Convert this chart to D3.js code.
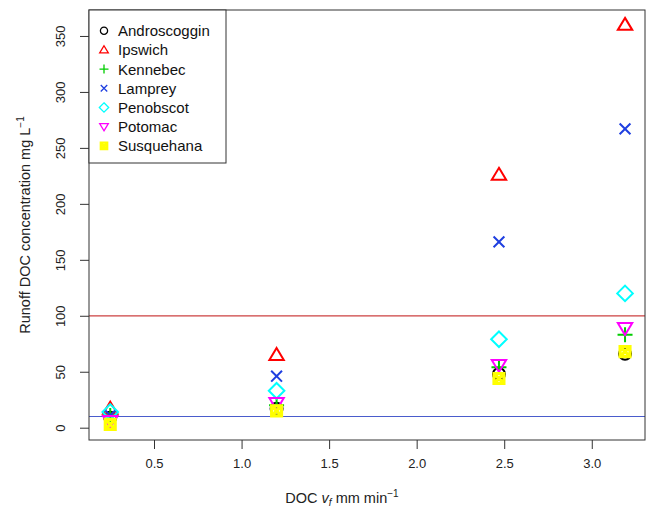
<!DOCTYPE html>
<html>
<head>
<meta charset="utf-8">
<script src="https://cdn.jsdelivr.net/npm/d3@7"></script>
<style>
  html, body { margin: 0; padding: 0; background: #fff; }
  svg { display: block; font-family: "Liberation Sans", Arial, sans-serif; }
</style>
</head>
<body>
<div id="chart"></div>
<script>
// ---- Data ----
const xValues = [0.25, 1.2, 2.47, 3.19];
const seriesNames = ["Androscoggin", "Ipswich", "Kennebec", "Lamprey", "Penobscot", "Potomac", "Susquehana"];
const androscoggin = [9, 17, 48, 66];
const ipswich = [17, 65, 226, 360];
const kennebec = [11, 20, 54, 83];
const lamprey = [11, 46, 166, 267];
const penobscot = [14, 33, 79, 120];
const potomac = [6, 22, 56, 89];
const susquehana = [3, 15, 44, 68];
const seriesColors = ["#000000", "#FF0000", "#00CD00", "#1F3FE0", "#00FFFF", "#FF00FF", "#FFFF00"];
const seriesShapes = ["circle", "triangle", "plus", "cross", "diamond", "triangleDown", "squareX"];
const xTicks = [0.5, 1.0, 1.5, 2.0, 2.5, 3.0];
const yTicks = [0, 50, 100, 150, 200, 250, 300, 350];
const refLines = [100, 10];
const refColors = ["#cc4040", "#4a5ccc"];

const seriesValues = [androscoggin, ipswich, kennebec, lamprey, penobscot, potomac, susquehana];

const W = 649, H = 510;
const plot = { left: 89, right: 645, top: 10, bottom: 440 };

const svg = d3.select("#chart").append("svg").attr("width", W).attr("height", H);

const x = d3.scaleLinear().domain([0.1287, 3.304]).range([plot.left, plot.right]);
const y = d3.scaleLinear().domain([-10.99, 373.2]).range([plot.bottom, plot.top]);

function shapePath(shape, s) {
  const p = d3.path();
  switch (shape) {
    case "circle":
      p.moveTo(s, 0); p.arc(0, 0, s, 0, 2 * Math.PI); break;
    case "triangle":
      p.moveTo(0, -1.15 * s); p.lineTo(1.2 * s, 0.85 * s); p.lineTo(-1.2 * s, 0.85 * s); p.closePath(); break;
    case "triangleDown":
      p.moveTo(0, 1.15 * s); p.lineTo(1.2 * s, -0.85 * s); p.lineTo(-1.2 * s, -0.85 * s); p.closePath(); break;
    case "plus":
      p.moveTo(-1.25 * s, 0); p.lineTo(1.25 * s, 0); p.moveTo(0, -1.25 * s); p.lineTo(0, 1.25 * s); break;
    case "cross":
      p.moveTo(-0.9 * s, -0.9 * s); p.lineTo(0.9 * s, 0.9 * s); p.moveTo(-0.9 * s, 0.9 * s); p.lineTo(0.9 * s, -0.9 * s); break;
    case "diamond":
      p.moveTo(0, -1.3 * s); p.lineTo(1.3 * s, 0); p.lineTo(0, 1.3 * s); p.lineTo(-1.3 * s, 0); p.closePath(); break;
    case "squareX":
      p.rect(-0.9 * s, -0.9 * s, 1.8 * s, 1.8 * s);
      p.moveTo(-0.9 * s, -0.9 * s); p.lineTo(0.9 * s, 0.9 * s);
      p.moveTo(-0.9 * s, 0.9 * s); p.lineTo(0.9 * s, -0.9 * s); break;
  }
  return p.toString();
}

// reference lines
refLines.forEach((v, i) => {
  svg.append("line")
    .attr("x1", plot.left).attr("x2", plot.right)
    .attr("y1", y(v)).attr("y2", y(v))
    .attr("stroke", refColors[i]).attr("stroke-width", 1.2);
});

// points
seriesValues.forEach((vals, si) => {
  svg.append("g").selectAll("path")
    .data(vals.map((v, i) => ({ x: xValues[i], y: v })))
    .join("path")
    .attr("transform", d => `translate(${x(d.x)},${y(d.y)})`)
    .attr("d", shapePath(seriesShapes[si], si === 6 ? 5.5 : 6))
    .attr("fill", "none")
    .attr("stroke", seriesColors[si])
    .attr("stroke-width", si === 6 ? 3.2 : 2);
});

// box
svg.append("rect")
  .attr("x", plot.left).attr("y", plot.top)
  .attr("width", plot.right - plot.left).attr("height", plot.bottom - plot.top)
  .attr("fill", "none").attr("stroke", "#333").attr("stroke-width", 1);

// x axis
const xAxis = d3.axisBottom(x).tickValues(xTicks).tickFormat(d3.format(".1f")).tickSize(9).tickPadding(10);
const gx = svg.append("g").attr("transform", `translate(0,${plot.bottom})`).call(xAxis);
gx.select(".domain").remove();
gx.selectAll(".tick line").attr("stroke", "#333");
gx.selectAll(".tick text").attr("font-size", 13).attr("fill", "#222").attr("font-family", "Liberation Sans, Arial, sans-serif");

// y axis
const yAxis = d3.axisLeft(y).tickValues(yTicks).tickSize(9).tickFormat(d3.format("d"));
const gy = svg.append("g").attr("transform", `translate(${plot.left},0)`).call(yAxis);
gy.select(".domain").remove();
gy.selectAll(".tick line").attr("stroke", "#333");
gy.selectAll(".tick text")
  .attr("font-size", 13).attr("fill", "#222").attr("font-family", "Liberation Sans, Arial, sans-serif")
  .attr("x", 0).attr("dy", null)
  .attr("text-anchor", "middle")
  .attr("transform", "translate(-29,0) rotate(-90)")
  .attr("dominant-baseline", "central");

// axis titles
const xt = svg.append("text")
  .attr("x", (plot.left + plot.right) / 2 - 25).attr("y", 503)
  .attr("text-anchor", "middle").attr("font-size", 14.5).attr("fill", "#222");
xt.append("tspan").text("DOC ");
xt.append("tspan").attr("font-style", "italic").text("v");
xt.append("tspan").attr("font-style", "italic").attr("font-size", 10).attr("dy", 3).text("f");
xt.append("tspan").attr("dy", -3).text(" mm min");
xt.append("tspan").attr("font-size", 10).attr("dy", -6).text("\u22121");

const yt = svg.append("text")
  .attr("transform", `translate(30,${(plot.top + plot.bottom) / 2 + 0}) rotate(-90)`)
  .attr("text-anchor", "middle").attr("font-size", 14.5).attr("fill", "#222");
yt.append("tspan").text("Runoff DOC concentration mg L");
yt.append("tspan").attr("font-size", 10).attr("dy", -6).text("\u22121");

// legend
const lg = svg.append("g");
lg.append("rect")
  .attr("x", plot.left).attr("y", plot.top)
  .attr("width", 137).attr("height", 153)
  .attr("fill", "#fff").attr("stroke", "#333").attr("stroke-width", 1);
seriesNames.forEach((name, i) => {
  const cy = 30.7 + i * 19.2;
  lg.append("path")
    .attr("transform", `translate(104,${cy})`)
    .attr("d", shapePath(seriesShapes[i], 3.6))
    .attr("fill", "none").attr("stroke", seriesColors[i])
    .attr("stroke-width", i === 6 ? 2.2 : 1.3);
  lg.append("text")
    .attr("x", 118).attr("y", cy).attr("dominant-baseline", "central")
    .attr("font-size", 15).attr("fill", "#111").text(name);
});
</script>
</body>
</html>
